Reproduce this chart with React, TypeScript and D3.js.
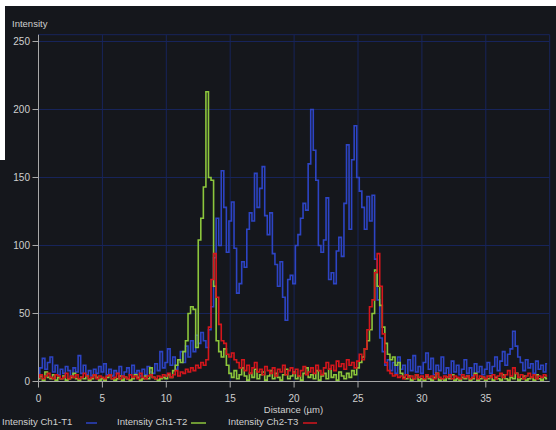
import React from "react";
import * as d3 from "d3";

// Sampling step of the profile (µm per sample)
const STEP = 0.2;

// Intensity Ch1-T1 (blue), samples at 0, 0.2, 0.4 ... 39.8 µm
const ch1T1: number[] = [
  6, 10, 17, 9, 14, 18, 7, 12, 5, 9, 6, 11, 8, 4, 10, 7, 19, 6, 12, 5, 8, 4, 9, 6, 11,
  7, 13, 5, 9, 4, 8, 6, 11, 4, 7, 10, 5, 12, 6, 8, 4, 9, 5, 11, 7, 6, 13, 8, 22, 10,
  14, 24, 12, 18, 9, 16, 22, 14, 26, 18, 30, 22, 34, 28, 36, 30, 25, 38, 55, 91, 120, 100, 155, 128, 95,
  118, 132, 98, 65, 72, 88, 84, 112, 124, 118, 153, 128, 142, 158, 122, 108, 124, 94, 86, 70, 88, 62, 45, 75, 78,
  72, 100, 108, 120, 131, 126, 160, 200, 170, 148, 100, 95, 104, 135, 75, 80, 72, 96, 106, 92, 131, 174, 112, 163, 188,
  150, 140, 128, 112, 136, 118, 137, 90, 60, 32, 22, 12, 16, 8, 14, 6, 18, 9, 12, 5, 16, 8, 19, 7, 11,
  6, 14, 21, 9, 17, 5, 12, 8, 18, 6, 10, 4, 15, 7, 12, 5, 9, 16, 6, 10, 4, 13, 7, 11, 5,
  9, 14, 6, 11, 18, 8, 15, 22, 12, 20, 24, 37, 26, 18, 14, 8, 16, 10, 13, 6, 15, 9, 12, 7, 13,
];

// Intensity Ch1-T2 (green)
const ch1T2: number[] = [
  2, 4, 1, 7, 3, 2, 5, 1, 3, 2, 4, 1, 2, 3, 6, 2, 1, 3, 2, 4, 1, 2, 5, 3, 1,
  2, 1, 3, 5, 2, 1, 2, 4, 1, 3, 2, 1, 2, 5, 3, 1, 2, 4, 2, 10, 3, 2, 1, 2, 3,
  2, 5, 3, 8, 12, 16, 14, 22, 30, 50, 55, 53, 25, 104, 120, 143, 213, 150, 148, 70, 30, 22, 18, 24, 12,
  6, 3, 8, 2, 5, 10, 4, 1, 6, 3, 9, 2, 5, 7, 1, 4, 8, 2, 6, 3, 1, 5, 9, 2, 4,
  7, 2, 4, 1, 6, 10, 3, 5, 2, 8, 1, 4, 6, 2, 9, 3, 5, 1, 7, 4, 2, 6, 3, 8, 5,
  10, 14, 18, 24, 30, 38, 50, 82, 70, 56, 40, 28, 20, 16, 18, 12, 14, 6, 3, 2, 4, 1, 2, 5, 1,
  2, 1, 4, 2, 1, 3, 6, 1, 2, 1, 3, 2, 5, 1, 2, 1, 3, 2, 4, 1, 2, 6, 1, 2, 3,
  1, 2, 4, 1, 3, 2, 1, 5, 2, 1, 3, 2, 6, 1, 2, 4, 1, 2, 3, 1, 5, 2, 1, 3, 2,
];

// Intensity Ch2-T3 (red)
const ch2T3: number[] = [
  3, 5, 2, 4, 6, 3, 2, 5, 4, 2, 3, 6, 2, 4, 3, 5, 2, 3, 6, 4, 2, 3, 5, 2, 4,
  3, 2, 4, 5, 2, 3, 6, 2, 4, 3, 2, 5, 3, 4, 2, 6, 3, 2, 4, 5, 3, 2, 4, 3, 5,
  4, 6, 3, 5, 8, 4, 7, 6, 9, 7, 10, 8, 12, 10, 14, 12, 16, 40, 75, 94, 62, 42, 30, 28, 20,
  18, 21, 16, 14, 10, 16, 8, 12, 6, 10, 14, 7, 9, 5, 11, 8, 6, 10, 4, 9, 7, 12, 5, 8, 10,
  6, 9, 4, 8, 11, 5, 7, 10, 6, 12, 8, 5, 10, 14, 9, 12, 8, 15, 11, 13, 9, 16, 12, 14, 10,
  15, 20, 16, 24, 38, 55, 60, 80, 94, 70, 35, 14, 8, 6, 4, 5, 3, 4, 2, 5, 3, 4, 2, 5, 3,
  4, 2, 5, 3, 4, 2, 6, 3, 2, 4, 3, 5, 2, 4, 3, 2, 5, 3, 4, 2, 3, 5, 2, 4, 3,
  2, 4, 3, 5, 2, 4, 6, 3, 5, 8, 4, 10, 6, 3, 5, 2, 4, 6, 3, 5, 2, 4, 3, 5, 4,
];

const xTicks = [0, 5, 10, 15, 20, 25, 30, 35];
const xGrid = [0, 5, 10, 15, 20, 25, 30, 35, 40];
const yTicks = [0, 50, 100, 150, 200, 250];

const seriesNames = ["Intensity Ch1-T1", "Intensity Ch1-T2", "Intensity Ch2-T3"];
const seriesColors = ["#2d44c4", "#8cc63c", "#d5161c"];

const W = 556;
const H = 430;
const FONT = "'Liberation Sans', Arial, sans-serif";
const TXT = "#cfcfcf";

export default function App() {
  const x = d3.scaleLinear().domain([0, 40]).range([38.5, 549.7]);
  const y = d3.scaleLinear().domain([0, 255]).range([381.5, 34.7]);
  const line = d3
    .line<number>()
    .x((_, i) => x(i * STEP))
    .y((d) => y(d))
    .curve(d3.curveStep);

  const data = [ch1T1, ch1T2, ch2T3];
  const legendX = [2, 117, 228];
  const legendSw = [[86, 97], [191, 206], [303, 317]];

  return (
    <svg
      width={W}
      height={H}
      style={{ position: "absolute", left: 0, top: 0, display: "block" }}
    >
      <rect x={0} y={0} width={W} height={H} fill="#15171c" />
      <rect x={0} y={0} width={W} height={6} fill="#ffffff" />
      <rect x={0} y={0} width={5} height={160} fill="#ffffff" />

      {/* grid */}
      {xGrid.map((t) => (
        <line key={"gx" + t} x1={x(t)} x2={x(t)} y1={y(255)} y2={y(0)} stroke="#17245a" strokeWidth={1} />
      ))}
      {yTicks.concat([255]).map((t) => (
        <line key={"gy" + t} x1={x(0)} x2={x(40)} y1={y(t)} y2={y(t)} stroke="#17245a" strokeWidth={1} />
      ))}

      {/* series */}
      {data.map((d, i) => (
        <path key={"s" + i} d={line(d) || ""} fill="none" stroke={seriesColors[i]} strokeWidth={1.6} />
      ))}

      {/* axes */}
      <line x1={x(0)} x2={x(0)} y1={y(255)} y2={y(0)} stroke="#a8a8a8" strokeWidth={1} />
      <line x1={x(0)} x2={x(40)} y1={y(0)} y2={y(0)} stroke="#a8a8a8" strokeWidth={1} />
      {yTicks.map((t) => (
        <g key={"yt" + t}>
          <line x1={x(0) - 6} x2={x(0)} y1={y(t)} y2={y(t)} stroke="#a8a8a8" />
          <text x={30} y={y(t) + 3.5} textAnchor="end" fontSize={10} fontFamily={FONT} fill={TXT}>
            {t}
          </text>
        </g>
      ))}
      {xTicks.map((t) => (
        <g key={"xt" + t}>
          <line x1={x(t)} x2={x(t)} y1={y(0)} y2={y(0) + 6} stroke="#a8a8a8" />
          <text x={x(t)} y={402} textAnchor="middle" fontSize={10} fontFamily={FONT} fill={TXT}>
            {t}
          </text>
        </g>
      ))}

      <text x={12} y={27} fontSize={9.5} fontFamily={FONT} fill={TXT}>
        Intensity
      </text>
      <text x={293.5} y={413} textAnchor="middle" fontSize={9.5} fontFamily={FONT} fill={TXT}>
        Distance (µm)
      </text>

      {/* legend */}
      {seriesNames.map((n, i) => (
        <g key={"lg" + i}>
          <text x={legendX[i]} y={425} fontSize={9.6} fontFamily={FONT} fill={TXT}>
            {n}
          </text>
          <line x1={legendSw[i][0]} x2={legendSw[i][1]} y1={423} y2={423} stroke={seriesColors[i]} strokeWidth={1.5} />
        </g>
      ))}
    </svg>
  );
}
